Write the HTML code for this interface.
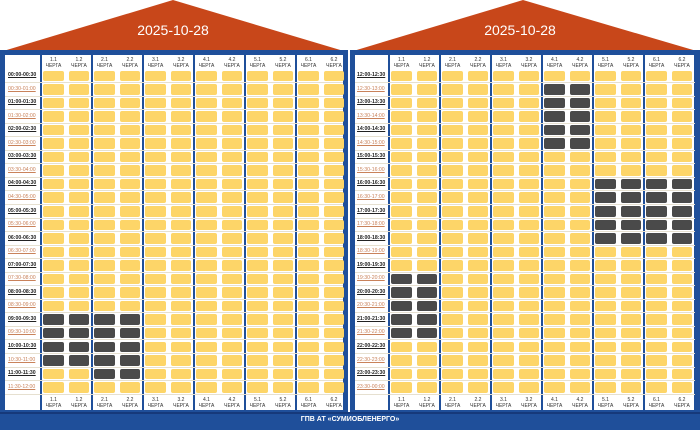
<!DOCTYPE html>
<html><head><meta charset="utf-8">
<style>
body{margin:0;width:700px;height:428px;background:#fff;position:relative;overflow:hidden;font-family:"Liberation Sans",sans-serif}
.a{position:absolute}
.cell{position:absolute;background:#fdd568;border-radius:2px}
.dk{background:#4a4a4a}
.lb{position:absolute;font-size:5px;text-align:center;white-space:nowrap;color:#333}
.t{position:absolute;font-size:5.2px;white-space:nowrap;text-decoration:underline;font-weight:bold;color:#222}
.t.o{color:#c9825a;font-weight:normal}
.title{position:absolute;color:#fff;font-size:14px;top:22px;width:120px;text-align:center}
</style></head><body>
<svg class="a" style="left:0;top:0" width="700" height="60">
<polygon points="0,52 173,0 347,52" fill="#c8471a"/>
<polygon points="350,52 523,0 700,52" fill="#c8471a"/>
</svg>
<div class="title" style="left:113px">2025-10-28</div>
<div class="title" style="left:460px">2025-10-28</div>
<div id="root"></div>
<div class="a" style="left:0;top:412px;width:700px;height:16px;background:#1f4f9a;border-top:2px solid #16397a"></div>
<div class="a" style="left:0;top:416px;width:700px;text-align:center;color:#fff;font-size:7px;font-weight:bold">ГПВ АТ «СУМИОБЛЕНЕРГО»</div>
<script>
var root=document.getElementById('root'),h='';
function box(x,y,w,hh,s){h+='<div class="a" style="left:'+x+'px;top:'+y+'px;width:'+w+'px;height:'+hh+'px;'+s+'"></div>';}
function panel(px,pw,tx,gx,gw,start,dark){
 box(px,50,pw,362,'background:#1f4f9a');
 box(px+5,55,pw-10,355,'background:#fff');
 for(var g=0;g<=6;g++){box(gx+g*gw-1,55,2,355,'background:#1f4f9a');}
 for(var r=0;r<24;r++){
  var y=69+r*13.55;
  var m=start*60+r*30,a=m,b=m+30;
  function f(v){v=v%1440;var H=Math.floor(v/60),M=v%60;return (H<10?'0':'')+H+':'+(M<10?'0':'')+M;}
  h+='<div class="t'+(r%2?' o':'')+'" style="left:'+tx+'px;top:'+(y+3)+'px">'+f(a)+'-'+f(b)+'</div>';
  box(px+5,y+13,pw-10,0.6,'background:#e6e0d0');
  for(var g=0;g<6;g++)for(var k=0;k<2;k++){
   var d=dark(r,g);
   h+='<div class="cell'+(d?' dk':'')+'" style="left:'+(gx+g*gw+2+k*25.5)+'px;top:'+(y+1.5)+'px;width:20.5px;height:10.5px"></div>';
  }
 }
 for(var g=0;g<6;g++)for(var k=0;k<2;k++){
  var lx=gx+g*gw+2+k*25.5;
  var nm=(g+1)+'.'+(k+1)+'<br>ЧЕРГА';
  h+='<div class="lb" style="left:'+lx+'px;width:21px;top:57px">'+nm+'</div>';
  h+='<div class="lb" style="left:'+lx+'px;width:21px;top:397px">'+nm+'</div>';
 }
}
panel(0,348,8,41,51,0,function(r,g){return (g<2&&r>=18&&r<=21)||(g==1&&r==22);});
panel(350,350,357,389,51,12,function(r,g){return (g==0&&r>=15&&r<=19)||(g==3&&r>=1&&r<=5)||(g>=4&&r>=8&&r<=12);});
root.innerHTML=h;
</script>
</body></html>
